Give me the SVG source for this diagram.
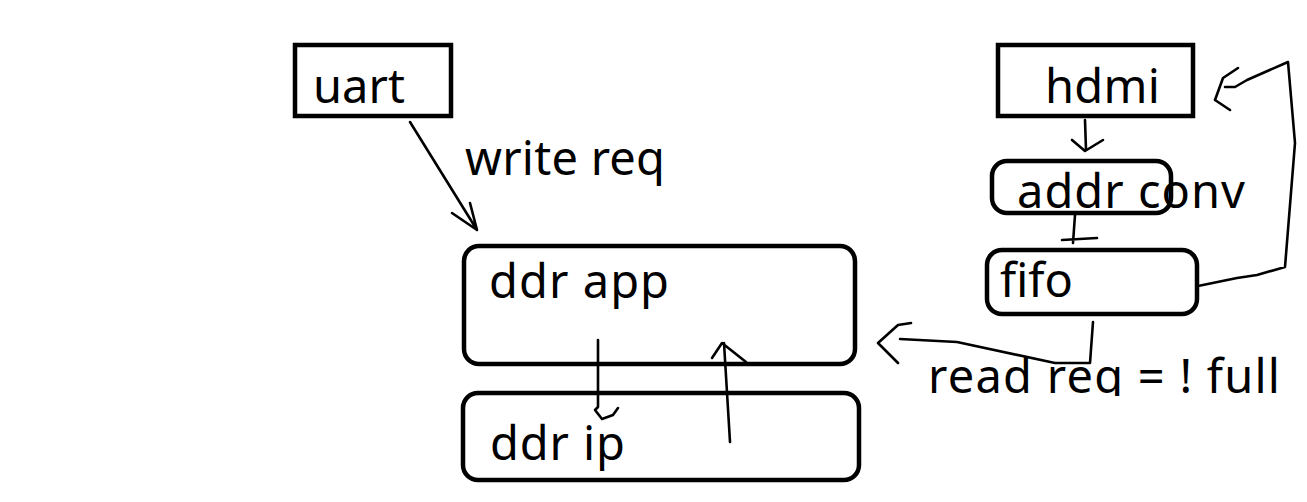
<svg xmlns="http://www.w3.org/2000/svg" width="1307" height="502" viewBox="0 0 1307 502">
<style>
.box{fill:none;stroke:#000;stroke-width:4.5}
.ln{fill:none;stroke:#000;stroke-width:2.6;stroke-linejoin:round;stroke-linecap:round}
.t{font-family:"Noto Sans","Liberation Sans",sans-serif;font-size:47px;fill:#000}
</style>
<defs><clipPath id="cp"><rect x="900" y="340" width="400" height="56"/></clipPath></defs>
<rect width="1307" height="502" fill="#fff"/>
<g id="uart"><rect class="box" x="295" y="45" width="156" height="71"/><text class="t" x="313" y="103" textLength="92" lengthAdjust="spacing">uart</text></g>
<g id="ddr-app"><rect class="box" x="464" y="246" width="391" height="118" rx="15"/><text class="t" x="489" y="298" textLength="180" lengthAdjust="spacing">ddr app</text></g>
<g id="ddr-ip"><rect class="box" x="463" y="393" width="396" height="87" rx="15"/><text class="t" x="490" y="460" textLength="135" lengthAdjust="spacing">ddr ip</text></g>
<g id="hdmi"><rect class="box" x="998" y="45" width="195" height="71"/><text class="t" x="1045" y="103" textLength="115" lengthAdjust="spacing">hdmi</text></g>
<g id="addr-conv"><rect class="box" x="992" y="161" width="179" height="52" rx="15"/><text class="t" x="1017" y="208" textLength="228" lengthAdjust="spacing">addr conv</text></g>
<g id="fifo"><rect class="box" x="987" y="250" width="210" height="64" rx="15"/><text class="t" x="1000" y="297" textLength="73" lengthAdjust="spacing">fifo</text></g>
<g id="labels">
<text class="t" x="465" y="175" textLength="200" lengthAdjust="spacing">write req</text>
<text class="t" x="928" y="393" textLength="352" lengthAdjust="spacing" clip-path="url(#cp)">read req = ! full</text>
</g>
<g id="connectors">
<path class="ln" d="M410,122 L477,230 M452,213 L477,230 L470,203"/>
<path class="ln" d="M598,340 L598,407 L595,410 L602,419 L613,415 L618,408"/>
<path class="ln" d="M730,442 L724,343 M712,358 L722,343 L746,362"/>
<path class="ln" d="M1085,120 L1086,150 M1072,140 L1085,151 L1103,140"/>
<path class="ln" d="M1075,215 L1073,243 M1062,240 L1097,238"/>
<path class="ln" d="M1198,286 L1237,278 L1257,275 L1285,267 L1295,143 L1288,62 L1247,80 L1235,87 L1225,87 M1238,68 L1223,78 L1215,100 L1230,110"/>
<path class="ln" d="M1093,322 L1090,363 L1055,363 L957,342 L900,339 M911,323 L898,325 L878,343 L898,363"/>
</g>
</svg>
